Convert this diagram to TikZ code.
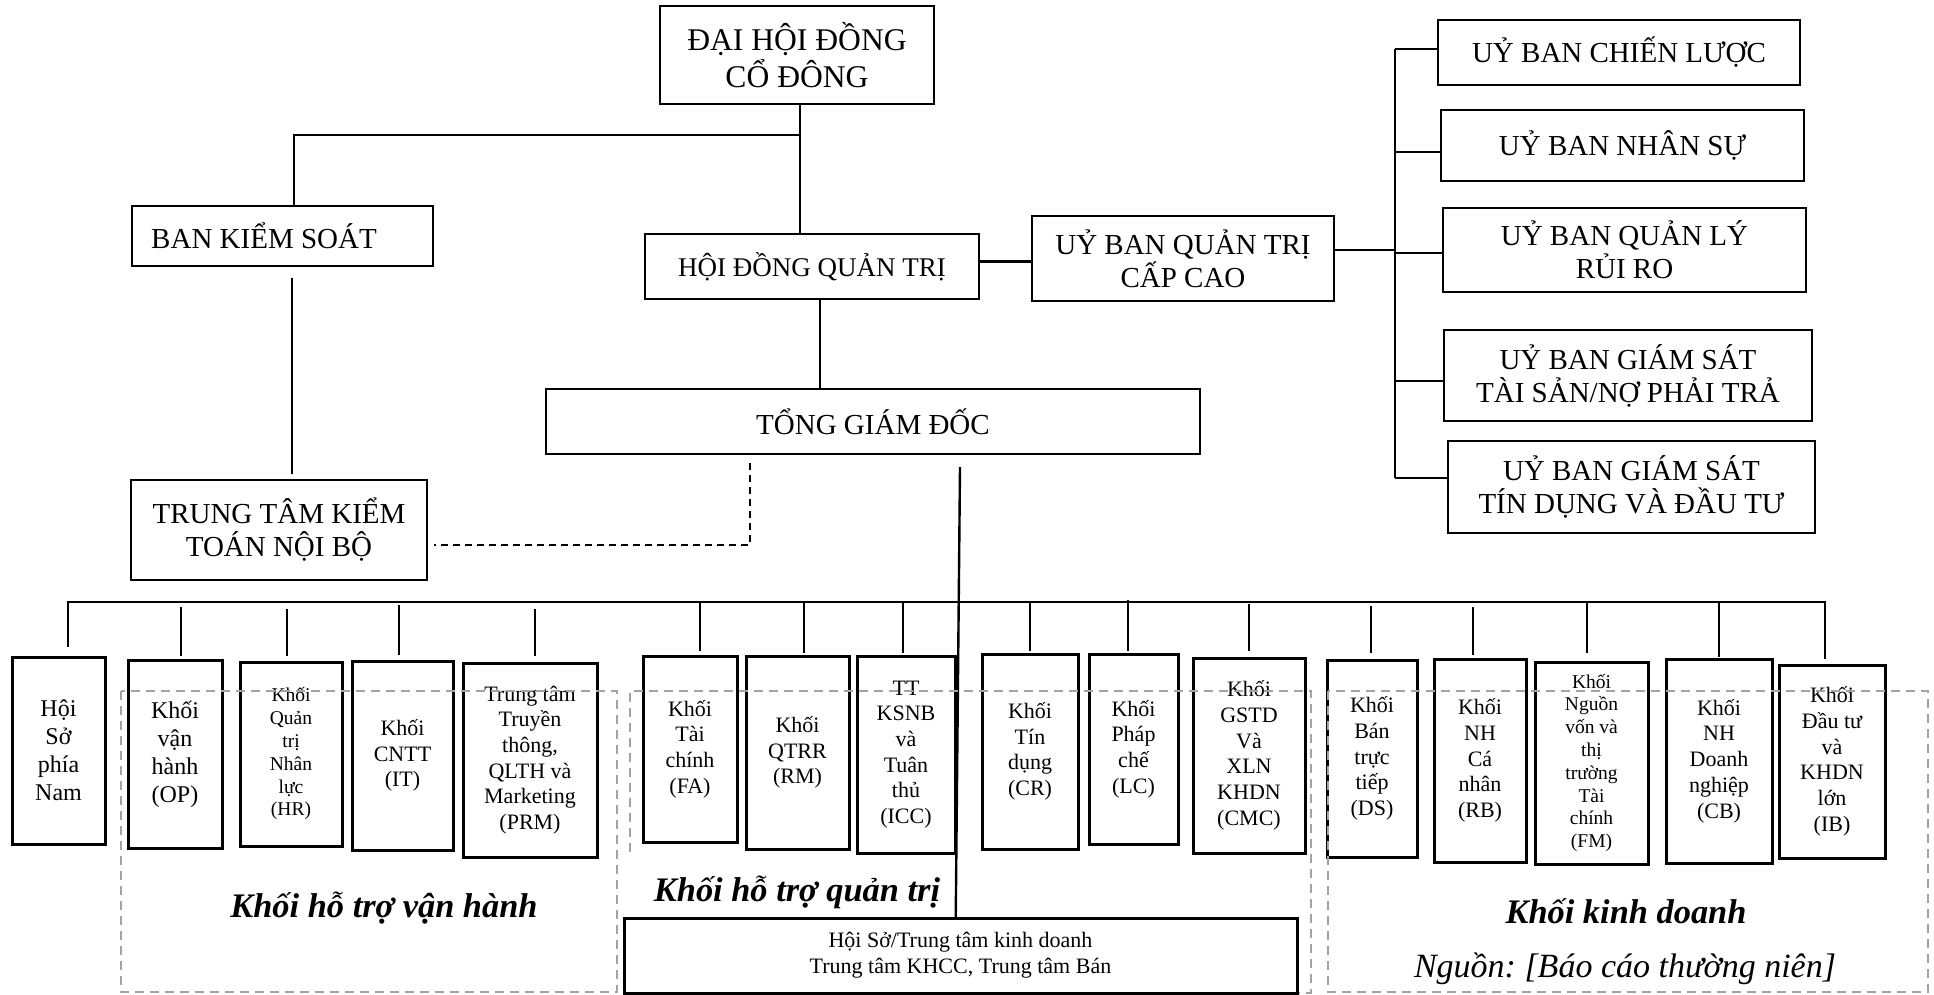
\documentclass[tikz,border=0pt]{standalone}
\usepackage{fontspec}
\setmainfont{Liberation Serif}
\usetikzlibrary{calc}
\newcommand\myfs[2]{\fontsize{#1pt}{#2pt}\selectfont}
\frenchspacing
\begin{document}
\begin{tikzpicture}[x=0.5pt,y=-0.5pt,
  sz/.style 2 args={minimum width=#1*0.5pt,minimum height=#2*0.5pt},
  tb/.style={draw,line width=1pt,align=center,inner sep=0pt,font=\myfs{14.5}{16.5}},
  bb/.style={draw,line width=1.5pt,align=center,inner sep=0pt,font=\myfs{11}{12.85}},
  conn/.style={line width=1.2pt},
  dsh/.style={line width=1pt,dash pattern=on 3.5pt off 2.5pt},
  grp/.style={draw=black!36,line width=1pt,dash pattern=on 4.5pt off 3pt},
  lbl/.style={anchor=base,inner sep=0pt,font=\myfs{17.2}{20}\bfseries\itshape}]
\fill[white] (0,0) rectangle (1934,995);
\useasboundingbox (0,0) rectangle (1934,995);

% top part
\node[tb,sz={274}{98},font=\myfs{15.8}{18.5}] (dhdcd) at (797,55) {ĐẠI HỘI ĐỒNG\\CỔ ĐÔNG};
\node[tb,sz={301}{60}] (bks) at (282.5,236) {BAN KIỂM SOÁT\hspace*{18.5pt}};
\node[tb,sz={334}{65},font=\myfs{13.5}{16}] (hdqt) at (812,266.5) {HỘI ĐỒNG QUẢN TRỊ};
\node[tb,sz={302}{85}] (ubqt) at (1183,258.5) {UỶ BAN QUẢN TRỊ\\CẤP CAO};
\node[tb,sz={362}{65}] (ub1) at (1619,52.5) {UỶ BAN CHIẾN LƯỢC};
\node[tb,sz={363}{71}] (ub2) at (1622.5,145.5) {UỶ BAN NHÂN SỰ};
\node[tb,sz={363}{84}] (ub3) at (1624.5,250) {UỶ BAN QUẢN LÝ\\RỦI RO};
\node[tb,sz={368}{91}] (ub4) at (1628,375.5) {UỶ BAN GIÁM SÁT\\TÀI SẢN/NỢ PHẢI TRẢ};
\node[tb,sz={367}{92}] (ub5) at (1631.5,487) {UỶ BAN GIÁM SÁT\\TÍN DỤNG VÀ ĐẦU TƯ};
\node[tb,sz={654}{65}] (tgd) at (873,421.5) {TỔNG GIÁM ĐỐC};
\node[tb,sz={296}{100}] (ttkt) at (279,530) {TRUNG TÂM KIỂM\\TOÁN NỘI BỘ};

\coordinate (j1) at ($(dhdcd.south)+(3,30)$);
\draw[conn] ($(dhdcd.south)+(3,0)$) -- ($(hdqt.north)+(-12,0)$);
\draw[conn] (j1) -| ($(bks.north)+(11.5,0)$);
\draw[conn] ($(bks.south)+(9.5,11)$) -- ($(ttkt.north)+(13,-5)$);
\coordinate (a1) at ($(hdqt.east)+(0,-5)$);
\draw[conn] (a1) -- (a1 -| ubqt.west);
\coordinate (b1) at ($(ubqt.east)+(0,-8.5)$);
\coordinate (vb) at ($(b1)+(60,0)$);
\draw[conn] (b1) -- (vb);
\coordinate (s1) at ($(ub1.west)+(0,-3.5)$);
\coordinate (s5) at ($(ub5.west)+(0,-9)$);
\draw[conn] (vb |- s1) -- (vb |- s5);
\foreach \u/\dy in {ub1/-3.5,ub2/6.5,ub3/3,ub4/5.5,ub5/-9}{
  \coordinate (s) at ($(\u.west)+(0,\dy)$);
  \draw[conn] (vb |- s) -- (s);
}
\draw[conn] ($(hdqt.south)+(8,0)$) -- ($(tgd.north)+(-53,0)$);
\draw[dsh] ($(tgd.south)+(-123,8)$) |- ($(ttkt.east)+(6,15)$);
\coordinate (gend) at (955,995);
\draw[conn] ($(tgd.south)+(87,12)$) -- (gend);

% bottom boxes
\node[bb,sz={93}{187},font=\myfs{12}{14}] (hsn) at (58.5,750.5) {Hội\\Sở\\phía\\Nam};
\node[bb,sz={94}{188},font=\myfs{12}{14}] (op) at (175,754) {Khối\\vận\\hành\\(OP)};
\node[bb,sz={102}{184},font=\myfs{9.75}{11.4}] (hr) at (291,754) {Khối\\Quản\\trị\\Nhân\\lực\\(HR)};
\node[bb,sz={101}{189}] (it) at (402.5,755.5) {Khối\\CNTT\\(IT)};
\node[bb,sz={134}{194}] (prm) at (530,760) {Trung tâm\\Truyền\\thông,\\QLTH và\\Marketing\\(PRM)};
\node[bb,sz={94}{186}] (fa) at (690,749) {Khối\\Tài\\chính\\(FA)};
\node[bb,sz={103}{193}] (rm) at (797.5,752.5) {Khối\\QTRR\\(RM)};
\node[bb,sz={98}{197}] (icc) at (906,754.5) {TT\\KSNB\\và\\Tuân\\thủ\\(ICC)};
\node[bb,sz={96}{195}] (cr) at (1030,751.5) {Khối\\Tín\\dụng\\(CR)};
\node[bb,sz={89}{190}] (lc) at (1133.5,749) {Khối\\Pháp\\chế\\(LC)};
\node[bb,sz={112}{195}] (cmc) at (1249,755.5) {Khối\\GSTD\\Và\\XLN\\KHDN\\(CMC)};
\node[bb,sz={90}{197}] (ds) at (1372,758.5) {Khối\\Bán\\trực\\tiếp\\(DS)};
\node[bb,sz={92}{203}] (rb) at (1480,760.5) {Khối\\NH\\Cá\\nhân\\(RB)};
\node[bb,sz={113}{202},font=\myfs{9.75}{11.4}] (fm) at (1591.5,763) {Khối\\Nguồn\\vốn và\\thị\\trường\\Tài\\chính\\(FM)};
\node[bb,sz={106}{204}] (cb) at (1719,761) {Khối\\NH\\Doanh\\nghiệp\\(CB)};
\node[bb,sz={106}{193}] (ib) at (1832,761.5) {Khối\\Đầu tư\\và\\KHDN\\lớn\\(IB)};

% bus and stubs
\coordinate (bus) at (0,602);
\coordinate (h1) at ($(hsn.north)+(9.5,-9)$);
\coordinate (h2) at ($(ib.north)+(-7,-5)$);
\draw[conn] (h1) -- (h1 |- bus) -| (h2);
\foreach \n/\dx/\tp/\gp in {op/6/52/3, hr/-4/52/5, it/-3.5/55/5, prm/5/53/6, fa/10/52/4, rm/6.5/52/2, icc/-3/52/2, cr/0/50/2, lc/-5.5/53/2, cmc/0/53/6, ds/-1/53/6, rb/-7/51/3, fm/-4.5/58/8, cb/0/55/1}
  \draw[conn] ($(\n.north)+(\dx,-\tp)$) -- ($(\n.north)+(\dx,-\gp)$);

% groups
\draw[grp] (121,691) rectangle (617,992);
\draw[grp] (630,852) -- (630,691) -- (1311,691) -- (1311,993) -- (1297,993);
\draw[grp] (1328,691) rectangle (1928,992);

\node[bb,sz={673}{75},fill=white] (hstt) at (960.5,955.5) {Hội Sở/Trung tâm kinh doanh\\Trung tâm KHCC, Trung tâm Bán};

\node[lbl] (l1) at (384,917) {Khối hỗ trợ vận hành};
\node[lbl] (l2) at (797,901) {Khối hỗ trợ quản trị};
\node[lbl] (l3) at (1626,923) {Khối kinh doanh};
\node[anchor=base,inner sep=0pt,font=\myfs{17}{20}\itshape] (src) at (1625,977) {Nguồn: [Báo cáo thường niên]};
\end{tikzpicture}
\end{document}
